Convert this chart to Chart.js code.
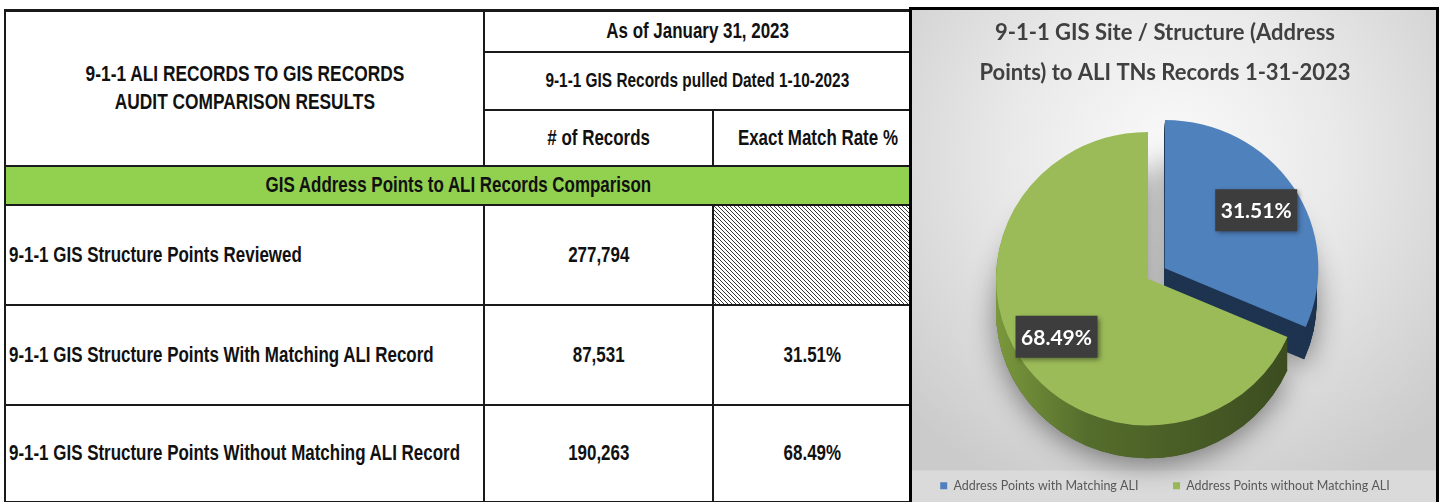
<!DOCTYPE html>
<html>
<head>
<meta charset="utf-8">
<script src="https://cdn.jsdelivr.net/npm/chart.js@4/dist/chart.umd.min.js"></script>
<style>
  body { margin: 0; background: #fff; width: 1440px; height: 502px; overflow: hidden; position: relative; }
  #audit {
    position: absolute; left: 4px; top: 9px; width: 906px;
    border-collapse: collapse; table-layout: fixed;
    font-family: "Liberation Sans", Arial, sans-serif;
    font-weight: bold; color: #111;
  }
  #audit td { border: 2px solid #1a1a1a; text-align: center; padding: 0; font-size: 22px; overflow: visible; }
  #audit tr:first-child td { border-top-width: 3px; }
  #audit td.head { line-height: 28px; font-size: 22.5px; }
  #audit td.small { font-size: 20px; }
  #audit tr.band td { background: #92d050; }
  #audit td.name { text-align: left; padding-left: 3px; }
  #audit td.hatch {
    background: #fff url("data:image/svg+xml,%3Csvg xmlns='http://www.w3.org/2000/svg' width='4' height='4'%3E%3Cpath d='M-1,-1 L5,5 M-1,3 L1,5 M3,-1 L5,1' stroke='%23222' stroke-width='0.9'/%3E%3C/svg%3E") repeat;
  }
  .sx { display: inline-block; white-space: nowrap; transform: scaleX(0.77); transform-origin: center; }
  td.name .sx { transform-origin: left center; }
  #panel {
    position: absolute; left: 909px; top: 7px; width: 524px; height: 492px;
    border: 3px solid #000;
    background: radial-gradient(ellipse 70% 75% at 50% 30%, #fafafa 0%, #e9e9e9 45%, #cbcbcb 100%);
  }
</style>
</head>
<body>
<table id="audit">
  <colgroup><col style="width:479px"><col style="width:229px"><col style="width:198px"></colgroup>
  <tr style="height:41px">
    <td rowspan="3" class="head"><span class="sx">9-1-1 ALI RECORDS TO GIS RECORDS<br>AUDIT COMPARISON RESULTS</span></td>
    <td colspan="2"><span class="sx">As of January 31, 2023</span></td>
  </tr>
  <tr style="height:58px"><td colspan="2" class="small"><span class="sx">9-1-1 GIS Records pulled Dated 1-10-2023</span></td></tr>
  <tr style="height:56px"><td><span class="sx"># of Records</span></td><td><span class="sx">Exact Match Rate %</span></td></tr>
  <tr class="band" style="height:39px"><td colspan="3"><span class="sx">GIS Address Points to ALI Records Comparison</span></td></tr>
</table>
<div id="panel"><canvas id="pie"></canvas></div>

<script>
// table rows
const rowLabels = [
  '9-1-1 GIS Structure Points Reviewed',
  '9-1-1 GIS Structure Points With Matching ALI Record',
  '9-1-1 GIS Structure Points Without Matching ALI Record'
];
const recordCounts = [277794, 87531, 190263];
const matchRates = [null, 31.51, 68.49];

// pie
const sliceLabels = ['Address Points with Matching ALI', 'Address Points without Matching ALI'];
const sliceValues = [87531, 190263];
const sliceColors = ['#4f81bd', '#9bbb59'];
const sideColors = ['#1e3450', '#4a5f27'];
const titleLines = ['9-1-1 GIS Site / Structure (Address', 'Points) to ALI TNs Records 1-31-2023'];

const table = document.getElementById('audit');
rowLabels.forEach((label, i) => {
  const tr = document.createElement('tr');
  tr.style.height = (i === 2 ? 97 : 100) + 'px';
  const rate = matchRates[i] == null ? '' : '<span class="sx">' + matchRates[i].toFixed(2) + '%</span>';
  tr.innerHTML =
    '<td class="name"><span class="sx">' + label + '</span></td>' +
    '<td><span class="sx">' + recordCounts[i].toLocaleString('en-US') + '</span></td>' +
    '<td' + (matchRates[i] == null ? ' class="hatch"' : '') + '>' + rate + '</td>';
  table.appendChild(tr);
});

// fake 3D view of the pie
const SHIFT_X = -17, SHIFT_Y = -5, TILT = 0.965, DEPTH = 34;

function arcGeom(arc) {
  const p = arc.getProps(['x', 'y', 'startAngle', 'endAngle', 'outerRadius']);
  const off = (arc.options.offset || 0) / 4;
  const mid = (p.startAngle + p.endAngle) / 2;
  return {
    ox: p.x, oy: p.y,
    cx: p.x + Math.cos(mid) * off,
    cy: p.y + Math.sin(mid) * off,
    r: p.outerRadius, s: p.startAngle, e: p.endAngle, mid
  };
}

function project(g, x, y) {
  return { x: x + SHIFT_X, y: g.oy + (y - g.oy) * TILT + SHIFT_Y };
}

function slicePath(ctx, g, dy) {
  ctx.beginPath();
  ctx.moveTo(g.cx, g.cy + dy);
  ctx.arc(g.cx, g.cy + dy, g.r, g.s, g.e);
  ctx.closePath();
}

// legend band behind the legend
const legendBand = {
  id: 'legendBand',
  beforeDraw(chart) {
    const {ctx, legend, width, height} = chart;
    ctx.save();
    ctx.fillStyle = '#dadada';
    ctx.fillRect(0, legend.top, width, height - legend.top);
    ctx.restore();
  }
};

const pieDepth = {
  id: 'pieDepth',
  beforeDatasetsDraw(chart) {
    const ctx = chart.ctx;
    const geoms = chart.getDatasetMeta(0).data.map(arcGeom);
    const g0 = geoms[0];
    ctx.save();
    ctx.translate(SHIFT_X, SHIFT_Y);
    ctx.translate(g0.ox, g0.oy);
    ctx.scale(1, TILT);
    ctx.translate(-g0.ox, -g0.oy);

    // soft shadow under the pie
    ctx.save();
    ctx.shadowColor = 'rgba(0,0,0,0.45)';
    ctx.shadowBlur = 28;
    ctx.shadowOffsetY = 6;
    geoms.forEach((g, i) => {
      ctx.fillStyle = sideColors[i];
      slicePath(ctx, g, DEPTH);
      ctx.fill();
    });
    ctx.restore();

    // side walls
    for (let d = DEPTH; d >= 1; d--) {
      geoms.forEach((g, i) => {
        if (i === 1) {
          const grad = ctx.createLinearGradient(g.cx - g.r, 0, g.cx + g.r, 0);
          grad.addColorStop(0, '#7a983d');
          grad.addColorStop(0.3, '#556d2c');
          grad.addColorStop(1, '#3a4a1f');
          ctx.fillStyle = grad;
        } else {
          ctx.fillStyle = sideColors[i];
        }
        slicePath(ctx, g, d);
        ctx.fill();
      });
    }
    // keep the tilt for the top faces, restored after the datasets
  },
  afterDatasetsDraw(chart) {
    const ctx = chart.ctx;
    ctx.restore();

    // dark value boxes
    const total = sliceValues.reduce((a, b) => a + b, 0);
    chart.getDatasetMeta(0).data.forEach((arc, i) => {
      const g = arcGeom(arc);
      const pt = project(g,
        g.cx + Math.cos(g.mid) * g.r * 0.72,
        g.cy + Math.sin(g.mid) * g.r * 0.72);
      const text = (sliceValues[i] / total * 100).toFixed(2) + '%';
      ctx.save();
      ctx.shadowColor = 'rgba(0,0,0,0.45)';
      ctx.shadowBlur = 5;
      ctx.shadowOffsetX = 2;
      ctx.shadowOffsetY = 2;
      ctx.fillStyle = '#3d3d3d';
      ctx.fillRect(pt.x - 41, pt.y - 21, 82, 42);
      ctx.restore();
      ctx.save();
      ctx.fillStyle = '#fff';
      ctx.font = 'bold 21px Lato';
      ctx.textAlign = 'center';
      ctx.textBaseline = 'middle';
      ctx.fillText(text, pt.x, pt.y + 1);
      ctx.restore();
    });
  }
};

new Chart(document.getElementById('pie'), {
  type: 'pie',
  data: {
    labels: sliceLabels,
    datasets: [{
      data: sliceValues,
      backgroundColor: sliceColors,
      borderWidth: 0,
      offset: [80, 0]
    }]
  },
  options: {
    responsive: true,
    maintainAspectRatio: false,
    animation: false,
    radius: 152,
    layout: { padding: { left: 0, right: 18, top: 0, bottom: 0 } },
    plugins: {
      tooltip: { enabled: false },
      title: {
        display: true,
        text: titleLines,
        color: '#404040',
        font: { family: 'Lato', size: 22, weight: 'bold', lineHeight: 1.82 },
        padding: { top: 3, bottom: 4 }
      },
      legend: {
        position: 'bottom',
        labels: {
          boxWidth: 7,
          boxHeight: 7,
          padding: 9,
          color: '#595959',
          font: { family: 'Lato', size: 12.5 },
          generateLabels(chart) {
            const items = Chart.overrides.pie.plugins.legend.labels.generateLabels(chart);
            items[0].text = items[0].text + '        ';
            return items;
          }
        }
      }
    }
  },
  plugins: [legendBand, pieDepth]
});
</script>
</body>
</html>
